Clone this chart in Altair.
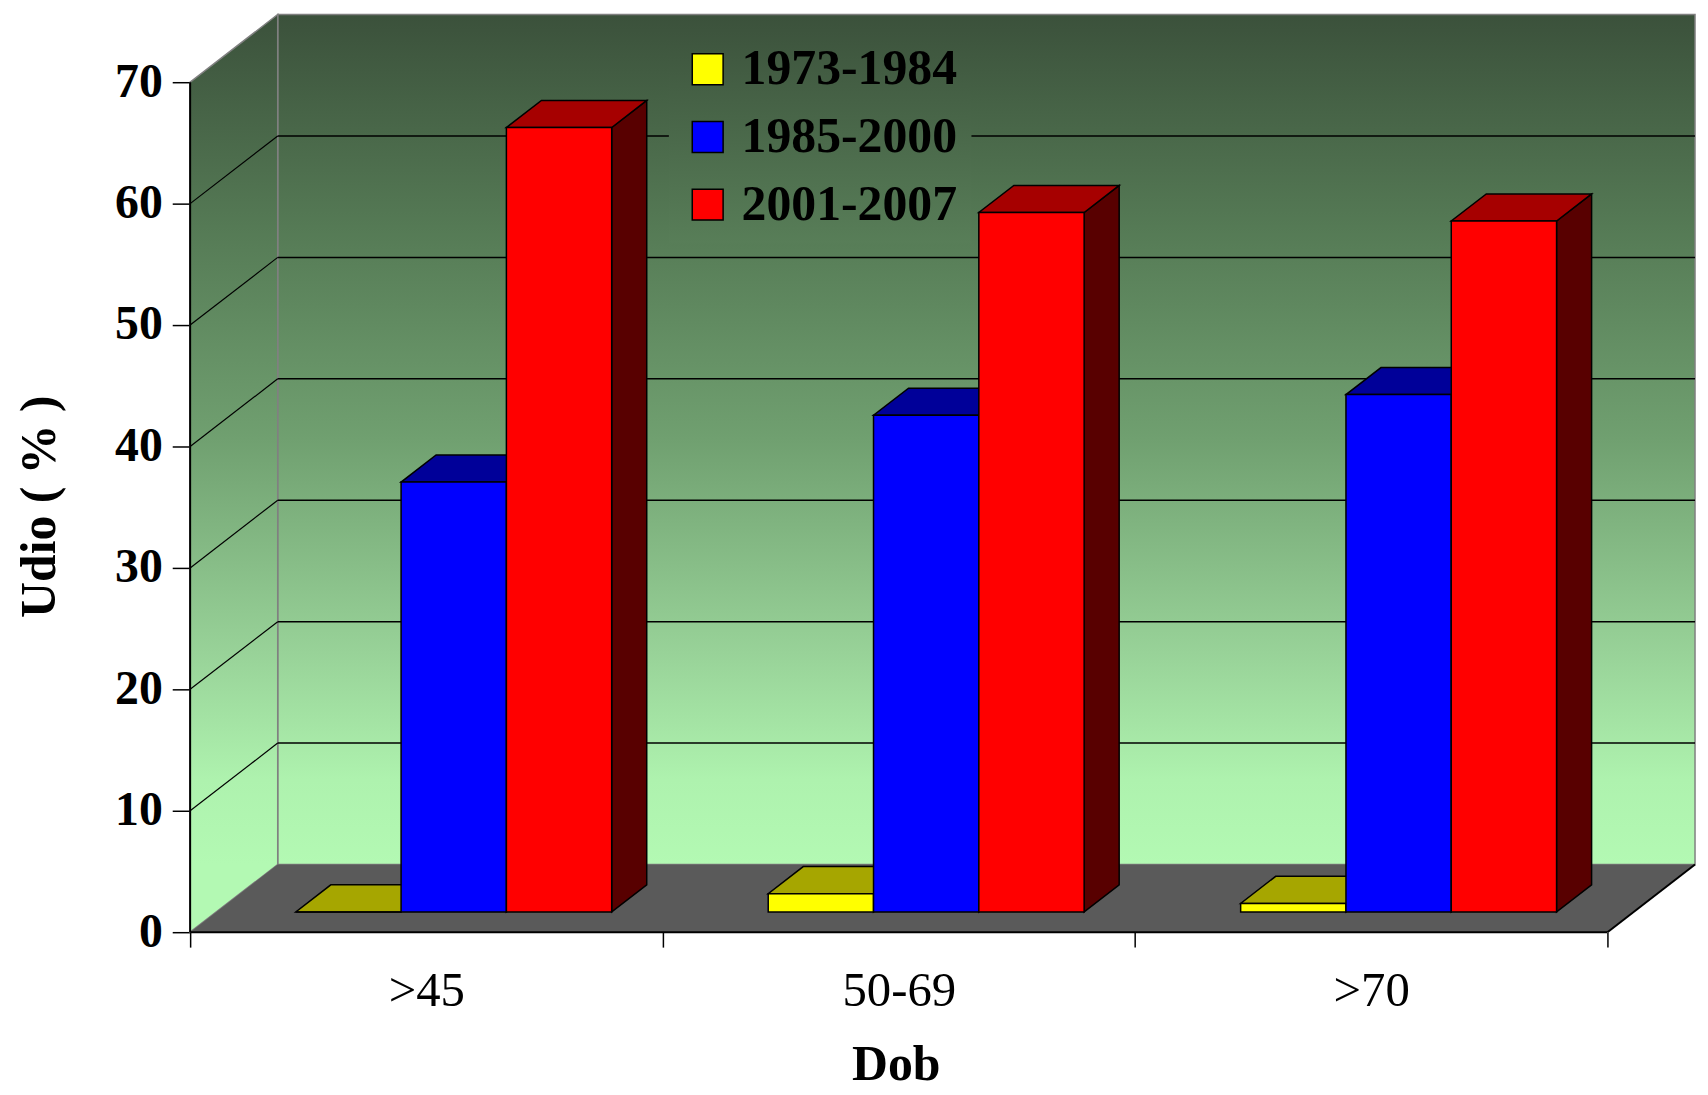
import json
import altair as alt
import pandas as pd

# ---------------- data ----------------
categories = [">45", "50-69", ">70"]
series = ["1973-1984", "1985-2000", "2001-2007"]
share_1973_1984 = [0.0, 1.5, 0.7]
share_1985_2000 = [35.4, 40.9, 42.6]
share_2001_2007 = [64.6, 57.6, 56.9]
y_tick_values = [0, 10, 20, 30, 40, 50, 60, 70]
y_title = "Udio ( % )"
x_title = "Dob"

front_colors = ["#ffff00", "#0000ff", "#ff0000"]
top_colors = ["#a6a600", "#000099", "#a60000"]
side_colors = ["#5a5a00", "#00005a", "#580000"]

# ---------------- geometry / style ----------------
CAT_PX = 474.7        # pixels per category
PCT_PX = 12.2         # pixels per percent
DEPTH_DX_PX = 88      # oblique depth offset
DEPTH_DY_PX = 68
N = len(categories)
Y_MAX = y_tick_values[-1]
DXU = DEPTH_DX_PX / CAT_PX
DYU = DEPTH_DY_PX / PCT_PX
W = round((N + DXU) * CAT_PX)
H = round((Y_MAX + DYU) * PCT_PX)
GAP = 0.168
BAR_W = 0.2229
D0, D1 = 0.3, 0.7
FONT = "Liberation Serif"

wall_stops = [(0.0, "#3b513b"), (0.25, "#557a55"), (0.5, "#70a070"),
              (0.75, "#98d298"), (0.9, "#aef2ae"), (1.0, "#b3f9b3")]


def hex2rgb(h):
    return [int(h[i:i + 2], 16) for i in (1, 3, 5)]


def mix(c1, c2, t):
    a, b = hex2rgb(c1), hex2rgb(c2)
    return "#" + "".join(f"{round(a[k] + (b[k] - a[k]) * t):02x}" for k in range(3))


def wall_color(f):
    for (o1, c1), (o2, c2) in zip(wall_stops, wall_stops[1:]):
        if o1 <= f <= o2:
            return mix(c1, c2, (f - o1) / (o2 - o1))
    return wall_stops[-1][1]


back_grad = alt.Gradient(
    gradient="linear", x1=0, x2=0, y1=0, y2=1,
    stops=[alt.GradientStop(offset=o, color=c) for o, c in wall_stops])
back_h = Y_MAX * PCT_PX
left_h = (Y_MAX + DYU) * PCT_PX
left_grad = alt.Gradient(
    gradient="linear", x1=0, x2=0, y1=0, y2=1,
    stops=[alt.GradientStop(offset=o * back_h / left_h, color=c) for o, c in wall_stops]
    + [alt.GradientStop(offset=1, color=wall_stops[-1][1])])

values = [share_1973_1984, share_1985_2000, share_2001_2007]

fronts, tops, sides = [], [], []
ddx = (D1 - D0) * DXU
ddy = (D1 - D0) * DYU
for i, cat in enumerate(categories):
    for s, name in enumerate(series):
        v = values[s][i]
        xa = i + GAP + s * BAR_W + D0 * DXU
        xb = xa + BAR_W
        base = D0 * DYU
        top = base + v
        pid = f"{i}-{s}"
        fronts.append(dict(series=name, category=cat, x=xa, x2=xb, y=base, y2=top))
        tops += [dict(pid=pid, fill=top_colors[s], x=xa, y=top, y2=top),
                 dict(pid=pid, fill=top_colors[s], x=xa + ddx, y=top, y2=top + ddy),
                 dict(pid=pid, fill=top_colors[s], x=xb, y=top, y2=top + ddy),
                 dict(pid=pid, fill=top_colors[s], x=xb + ddx, y=top + ddy, y2=top + ddy)]
        sides += [dict(pid=pid, fill=side_colors[s], x=xb, y=base, y2=top),
                  dict(pid=pid, fill=side_colors[s], x=xb + ddx, y=base + ddy, y2=top + ddy)]

fronts_df = pd.DataFrame(fronts)
tops_df = pd.DataFrame(tops)
sides_df = pd.DataFrame(sides)

floor_df = pd.DataFrame([dict(x=0, y=0, y2=0), dict(x=DXU, y=0, y2=DYU),
                         dict(x=N, y=0, y2=DYU), dict(x=N + DXU, y=DYU, y2=DYU)])
left_df = pd.DataFrame([dict(x=0, y=0, y2=Y_MAX), dict(x=DXU, y=DYU, y2=Y_MAX + DYU)])
back_df = pd.DataFrame([dict(x=DXU, x2=N + DXU, y=DYU, y2=Y_MAX + DYU)])
inner = y_tick_values[1:-1]
grid_back_df = pd.DataFrame([dict(x=DXU, x2=N + DXU, y=v + DYU, y2=v + DYU) for v in inner])
grid_side_df = pd.DataFrame([dict(x=0, x2=DXU, y=v, y2=v + DYU) for v in inner])
edges_df = pd.DataFrame([dict(x=0, x2=N, y=0, y2=0),
                         dict(x=0, x2=0, y=0, y2=Y_MAX),
                         dict(x=N, x2=N + DXU, y=0, y2=DYU)])

# ---------------- scales / axes ----------------
x_scale = alt.Scale(domain=[0, N + DXU], nice=False, zero=False)
y_scale = alt.Scale(domain=[0, Y_MAX + DYU], nice=False, zero=False)
tick_vals = sorted([float(i) for i in range(N + 1)] + [i + 0.5 for i in range(N)])
label_expr = f"datum.value % 1 === 0.5 ? {json.dumps(categories)}[floor(datum.value)] : ''"

x_axis = alt.Axis(
    values=tick_vals, labelExpr=label_expr, title=x_title, domain=False, grid=False,
    tickSize=15, tickWidth=1.5, tickColor="black",
    tickOpacity={"condition": {"test": "datum.value % 1 === 0", "value": 1}, "value": 0},
    labelFont=FONT, labelFontSize=49, labelColor="black", labelPadding=20,
    labelOverlap=False, labelFlush=False, labelLimit=0,
    titleFont=FONT, titleFontSize=50, titleFontWeight="bold", titleColor="black",
    titleX=709, titleY=148, titleAlign="center", titleBaseline="alphabetic")

y_axis = alt.Axis(
    values=y_tick_values, title=y_title, domain=False, grid=False,
    tickSize=18, tickWidth=1.5, tickColor="black",
    labelFont=FONT, labelFontSize=48, labelFontWeight="bold", labelColor="black",
    labelPadding=10, labelOverlap=False, labelFlush=False,
    titleFont=FONT, titleFontSize=50, titleFontWeight="bold", titleColor="black",
    titleAngle=270, titleX=-151, titleY=494, titleAlign="center", titleBaseline="middle")


def X(f="x"):
    return alt.X(f"{f}:Q", scale=x_scale, axis=x_axis)


def Y(f="y"):
    return alt.Y(f"{f}:Q", scale=y_scale, axis=y_axis, stack=None)


back = alt.Chart(back_df).mark_rect(color=back_grad, stroke="#808080", strokeWidth=1.5).encode(
    x=X(), x2="x2:Q", y=Y(), y2="y2:Q")
left = alt.Chart(left_df).mark_area(color=left_grad, stroke="#808080", strokeWidth=1.5,
                                    interpolate="linear").encode(x=X(), y=Y(), y2="y2:Q")
floor = alt.Chart(floor_df).mark_area(color="#5a5a5a", interpolate="linear").encode(
    x=X(), y=Y(), y2="y2:Q")
grid_back = alt.Chart(grid_back_df).mark_rule(color="black", strokeWidth=1.5).encode(
    x=X(), x2="x2:Q", y=Y(), y2="y2:Q")
grid_side = alt.Chart(grid_side_df).mark_rule(color="black", strokeWidth=1.2).encode(
    x=X(), x2="x2:Q", y=Y(), y2="y2:Q")
edges = alt.Chart(edges_df).mark_rule(color="black", strokeWidth=2).encode(
    x=X(), x2="x2:Q", y=Y(), y2="y2:Q")
side_faces = alt.Chart(sides_df).mark_area(stroke="black", strokeWidth=1.5, interpolate="linear",
                                           opacity=1).encode(
    x=X(), y=Y(), y2="y2:Q", detail="pid:N", color=alt.Color("fill:N", scale=None))
top_faces = alt.Chart(tops_df).mark_area(stroke="black", strokeWidth=1.5, interpolate="linear",
                                         opacity=1).encode(
    x=X(), y=Y(), y2="y2:Q", detail="pid:N", color=alt.Color("fill:N", scale=None))

LEG_PAD = 14
legend_top_y = 12 + 14
legend_bot_y = 246
wall_top_y = 12
f_top = (legend_top_y - wall_top_y) / back_h
f_bot = (legend_bot_y - wall_top_y) / back_h
legend_fill_expr = (
    "{gradient: 'linear', x1: 0, y1: 0, x2: 0, y2: 1, stops: ["
    f"{{offset: 0, color: '{wall_color(f_top)}'}}, "
    f"{{offset: 1, color: '{wall_color(f_bot)}'}}]}}"
)

front_faces = alt.Chart(fronts_df).mark_rect(stroke="black", strokeWidth=1.5, opacity=1).encode(
    x=X(), x2="x2:Q", y=Y(), y2="y2:Q",
    color=alt.Color("series:N", scale=alt.Scale(domain=series, range=front_colors),
                    legend=alt.Legend(
                        title=None, orient="none", legendX=495 - LEG_PAD, legendY=30 - LEG_PAD,
                        symbolType="square", symbolSize=961, symbolStrokeColor="black",
                        symbolStrokeWidth=1.5, symbolOpacity=1,
                        labelFont=FONT, labelFontSize=50, labelFontWeight="bold",
                        labelColor="black", labelOffset=9, labelLimit=0,
                        rowPadding=18, padding=LEG_PAD,
                        fillColor={"expr": legend_fill_expr})))

chart = alt.layer(back, left, floor, grid_back, grid_side, edges,
                  side_faces, top_faces, front_faces).properties(
    width=W, height=H,
    autosize=alt.AutoSizeParams(type="none"),
    padding={"left": 183, "top": 4, "right": 5, "bottom": 159},
    background="white",
).configure_view(stroke=None)

chart.save("out.html", embed_options={"renderer": "svg", "actions": False})
